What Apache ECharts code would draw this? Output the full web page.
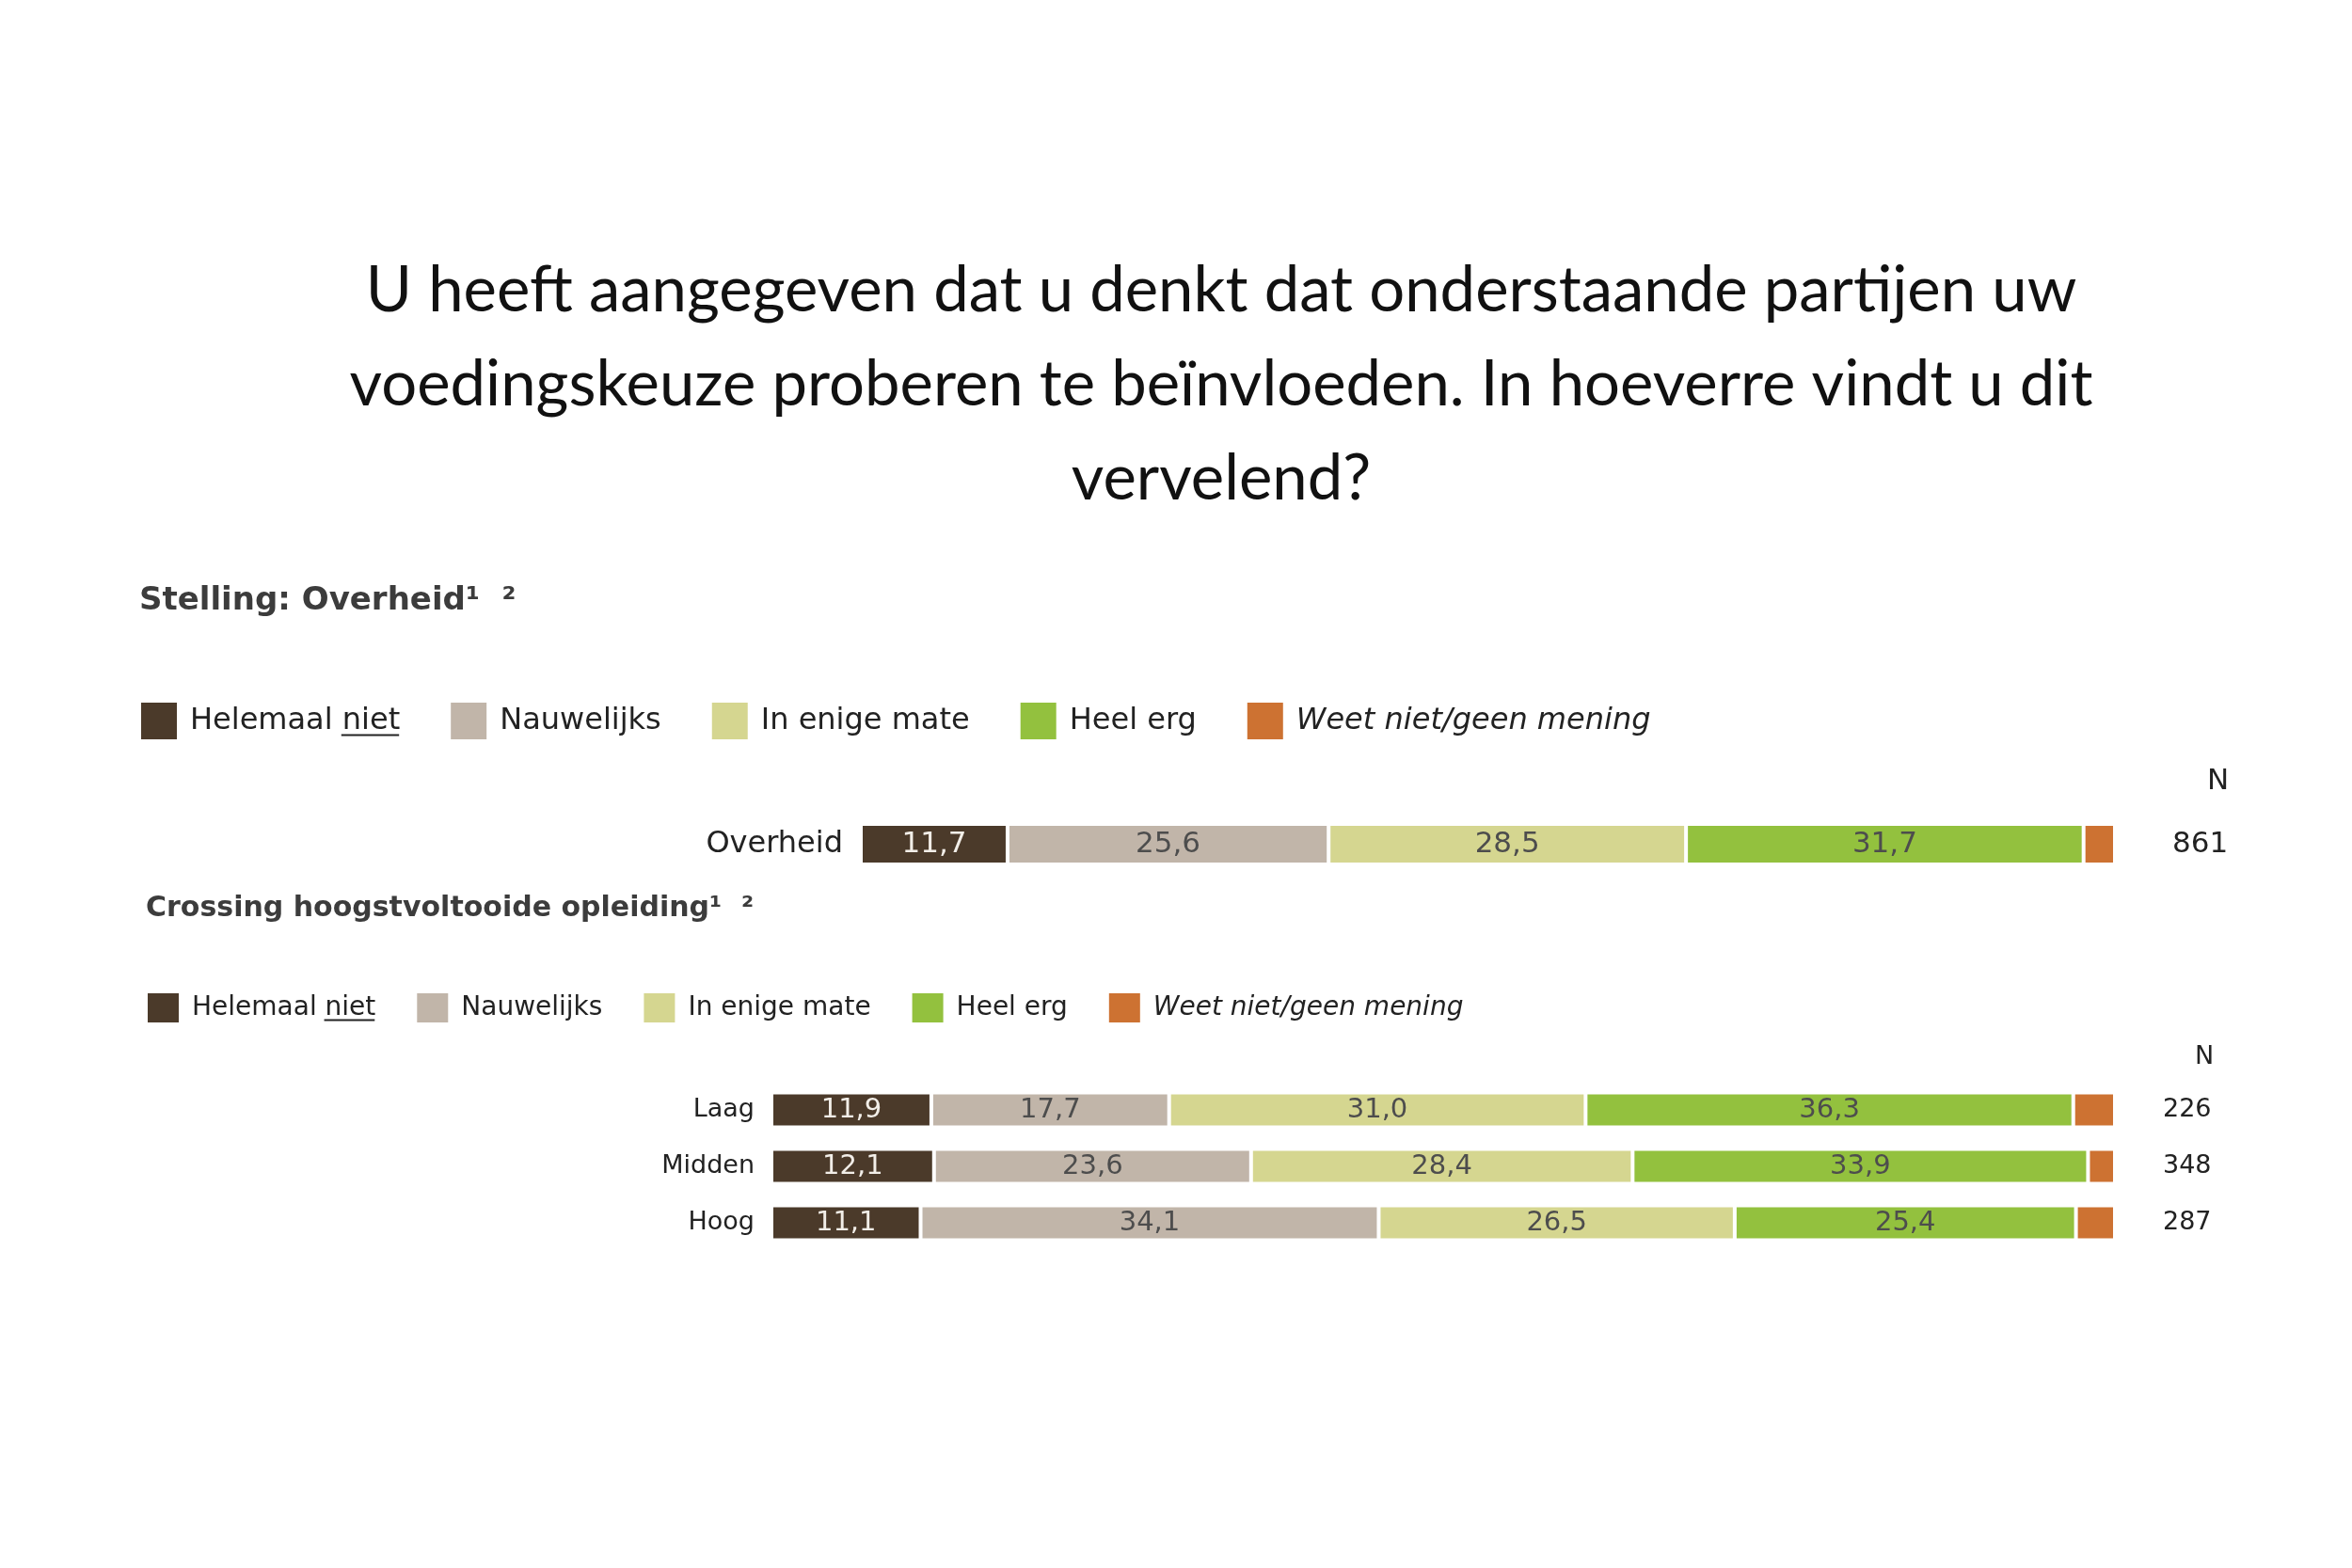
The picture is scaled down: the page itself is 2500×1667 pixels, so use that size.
<!DOCTYPE html>
<html>
<head>
<meta charset="utf-8">
<title>Voedingskeuze - Overheid</title>
<script src="https://cdn.jsdelivr.net/npm/echarts@6/dist/echarts.min.js"></script>
<style>
  html, body { margin: 0; padding: 0; background: #fff; }
  #main { width: 2500px; height: 1667px; }
</style>
</head>
<body>
<div id="main"></div>
<script>
// data
const responses = ['Helemaal niet', 'Nauwelijks', 'In enige mate', 'Heel erg', 'Weet niet/geen mening']
const topRows = ['Overheid']
const opleidingRows = ['Laag', 'Midden', 'Hoog']

const overheid = [11.7, 25.6, 28.5, 31.7, 2.5]
const laag = [11.9, 17.7, 31.0, 36.3, 3.1]
const midden = [12.1, 23.6, 28.4, 33.9, 2.0]
const hoog = [11.1, 34.1, 26.5, 25.4, 2.9]

const nTop = ['861']
const nOpleiding = ['226', '348', '287']

const colors = ['#4b3a2a', '#c1b5a9', '#d5d690', '#93c13e', '#cd7232']
const labelColors = ['#f2eee8', '#4d4d4d', '#4d4d4d', '#4d4d4d', '#4d4d4d']

const FONT = 'DejaVu Sans'

// 1,7 style numbers
function fmt(v) {
    return v.toFixed(1).replace('.', ',')
}

const chart = echarts.init(document.getElementById('main'))

// build the series: one per response per grid
const series = []
responses.forEach((name, i) => {
    series.push({
        name: name,
        type: 'bar',
        stack: 'top',
        xAxisIndex: 0,
        yAxisIndex: 0,
        barWidth: 43,
        data: [overheid[i]],
        itemStyle: { color: colors[i], borderColor: '#fff', borderWidth: 2 },
        label: {
            show: i < 4,
            position: 'inside',
            formatter: p => fmt(p.value),
            fontFamily: FONT,
            fontSize: 31,
            color: labelColors[i]
        }
    })
    series.push({
        name: name,
        type: 'bar',
        stack: 'opleiding',
        xAxisIndex: 1,
        yAxisIndex: 2,
        barWidth: 37,
        data: [laag[i], midden[i], hoog[i]],
        itemStyle: { color: colors[i], borderColor: '#fff', borderWidth: 2 },
        label: {
            show: i < 4,
            position: 'inside',
            formatter: p => fmt(p.value),
            fontFamily: FONT,
            fontSize: 29,
            color: labelColors[i]
        }
    })
})

function legendFor(left, top, w, h, gap, size) {
    return {
        left: left,
        top: top,
        padding: 0,
        orient: 'horizontal',
        icon: 'rect',
        itemWidth: w,
        itemHeight: h,
        itemGap: gap,
        data: responses,
        formatter: name => name === 'Weet niet/geen mening' ? '{i|' + name + '}' : name,
        textStyle: {
            fontFamily: FONT,
            fontSize: size,
            color: '#222',
            padding: [0, 0, 0, 8],
            rich: {
                i: { fontFamily: FONT, fontSize: size, fontStyle: 'italic', color: '#222' }
            }
        }
    }
}

const hiddenX = { type: 'value', min: 0, max: 100, show: false }

const option = {
    backgroundColor: '#fff',
    animation: false,
    title: [
        {
            text: 'U heeft aangegeven dat u denkt dat onderstaande partijen uw\nvoedingskeuze proberen te beïnvloeden. In hoeverre vindt u dit\nvervelend?',
            left: 1298,
            top: 259,
            padding: 0,
            textAlign: 'center',
            textStyle: { fontFamily: 'Lato', fontWeight: 'normal', fontSize: 67, lineHeight: 100, color: '#111' }
        },
        {
            text: 'Stelling: Overheid¹  ²',
            left: 148,
            top: 622,
            padding: 0,
            textStyle: { fontFamily: FONT, fontWeight: 'bold', fontSize: 34, color: '#3c3c3c' }
        },
        {
            text: 'Crossing hoogstvoltooide opleiding¹  ²',
            left: 155,
            top: 951,
            padding: 0,
            textStyle: { fontFamily: FONT, fontWeight: 'bold', fontSize: 30, color: '#3c3c3c' }
        }
    ],
    legend: [
        legendFor(148, 745, 40, 41, 52, 32),
        legendFor(155, 1054, 35, 33, 42, 28)
    ],
    grid: [
        { left: 915, right: 252, top: 876, height: 43 },
        { left: 820, right: 252, top: 1150, height: 180 }
    ],
    xAxis: [
        Object.assign({ gridIndex: 0 }, hiddenX),
        Object.assign({ gridIndex: 1 }, hiddenX)
    ],
    yAxis: [
        {
            type: 'category', gridIndex: 0, data: topRows,
            axisLine: { show: false }, axisTick: { show: false },
            axisLabel: { fontFamily: FONT, fontSize: 32, color: '#222', margin: 19 }
        },
        {
            type: 'category', gridIndex: 0, data: nTop, position: 'right',
            axisLine: { show: false }, axisTick: { show: false },
            axisLabel: { fontFamily: FONT, fontSize: 31, color: '#222', margin: 61 }
        },
        {
            type: 'category', gridIndex: 1, data: opleidingRows, inverse: true,
            axisLine: { show: false }, axisTick: { show: false },
            axisLabel: { fontFamily: FONT, fontSize: 27, color: '#222', margin: 18 }
        },
        {
            type: 'category', gridIndex: 1, data: nOpleiding, inverse: true, position: 'right',
            axisLine: { show: false }, axisTick: { show: false },
            axisLabel: { fontFamily: FONT, fontSize: 27, color: '#222', margin: 51 }
        }
    ],
    series: series
}

chart.setOption(option)

// column header "N" and the underline under "niet" in both legends
const ctx = document.createElement('canvas').getContext('2d')
function underline(left, w, center, size) {
    ctx.font = size + 'px "' + FONT + '"'
    const x0 = left + w + 5 + 8 + ctx.measureText('Helemaal ').width
    const x1 = x0 + ctx.measureText('niet').width
    const y = Math.round(center + size * 0.47) + 0.5
    return { type: 'line', shape: { x1: x0, y1: y, x2: x1, y2: y }, style: { stroke: '#222', lineWidth: 2 } }
}

chart.setOption({
    graphic: [
        { type: 'text', left: 2346, top: 815, style: { text: 'N', font: '31px "' + FONT + '"', fill: '#222' } },
        { type: 'text', left: 2333, top: 1110, style: { text: 'N', font: '27px "' + FONT + '"', fill: '#222' } },
        underline(148, 40, 765.5, 32),
        underline(155, 35, 1070.5, 28)
    ]
})
</script>
</body>
</html>
